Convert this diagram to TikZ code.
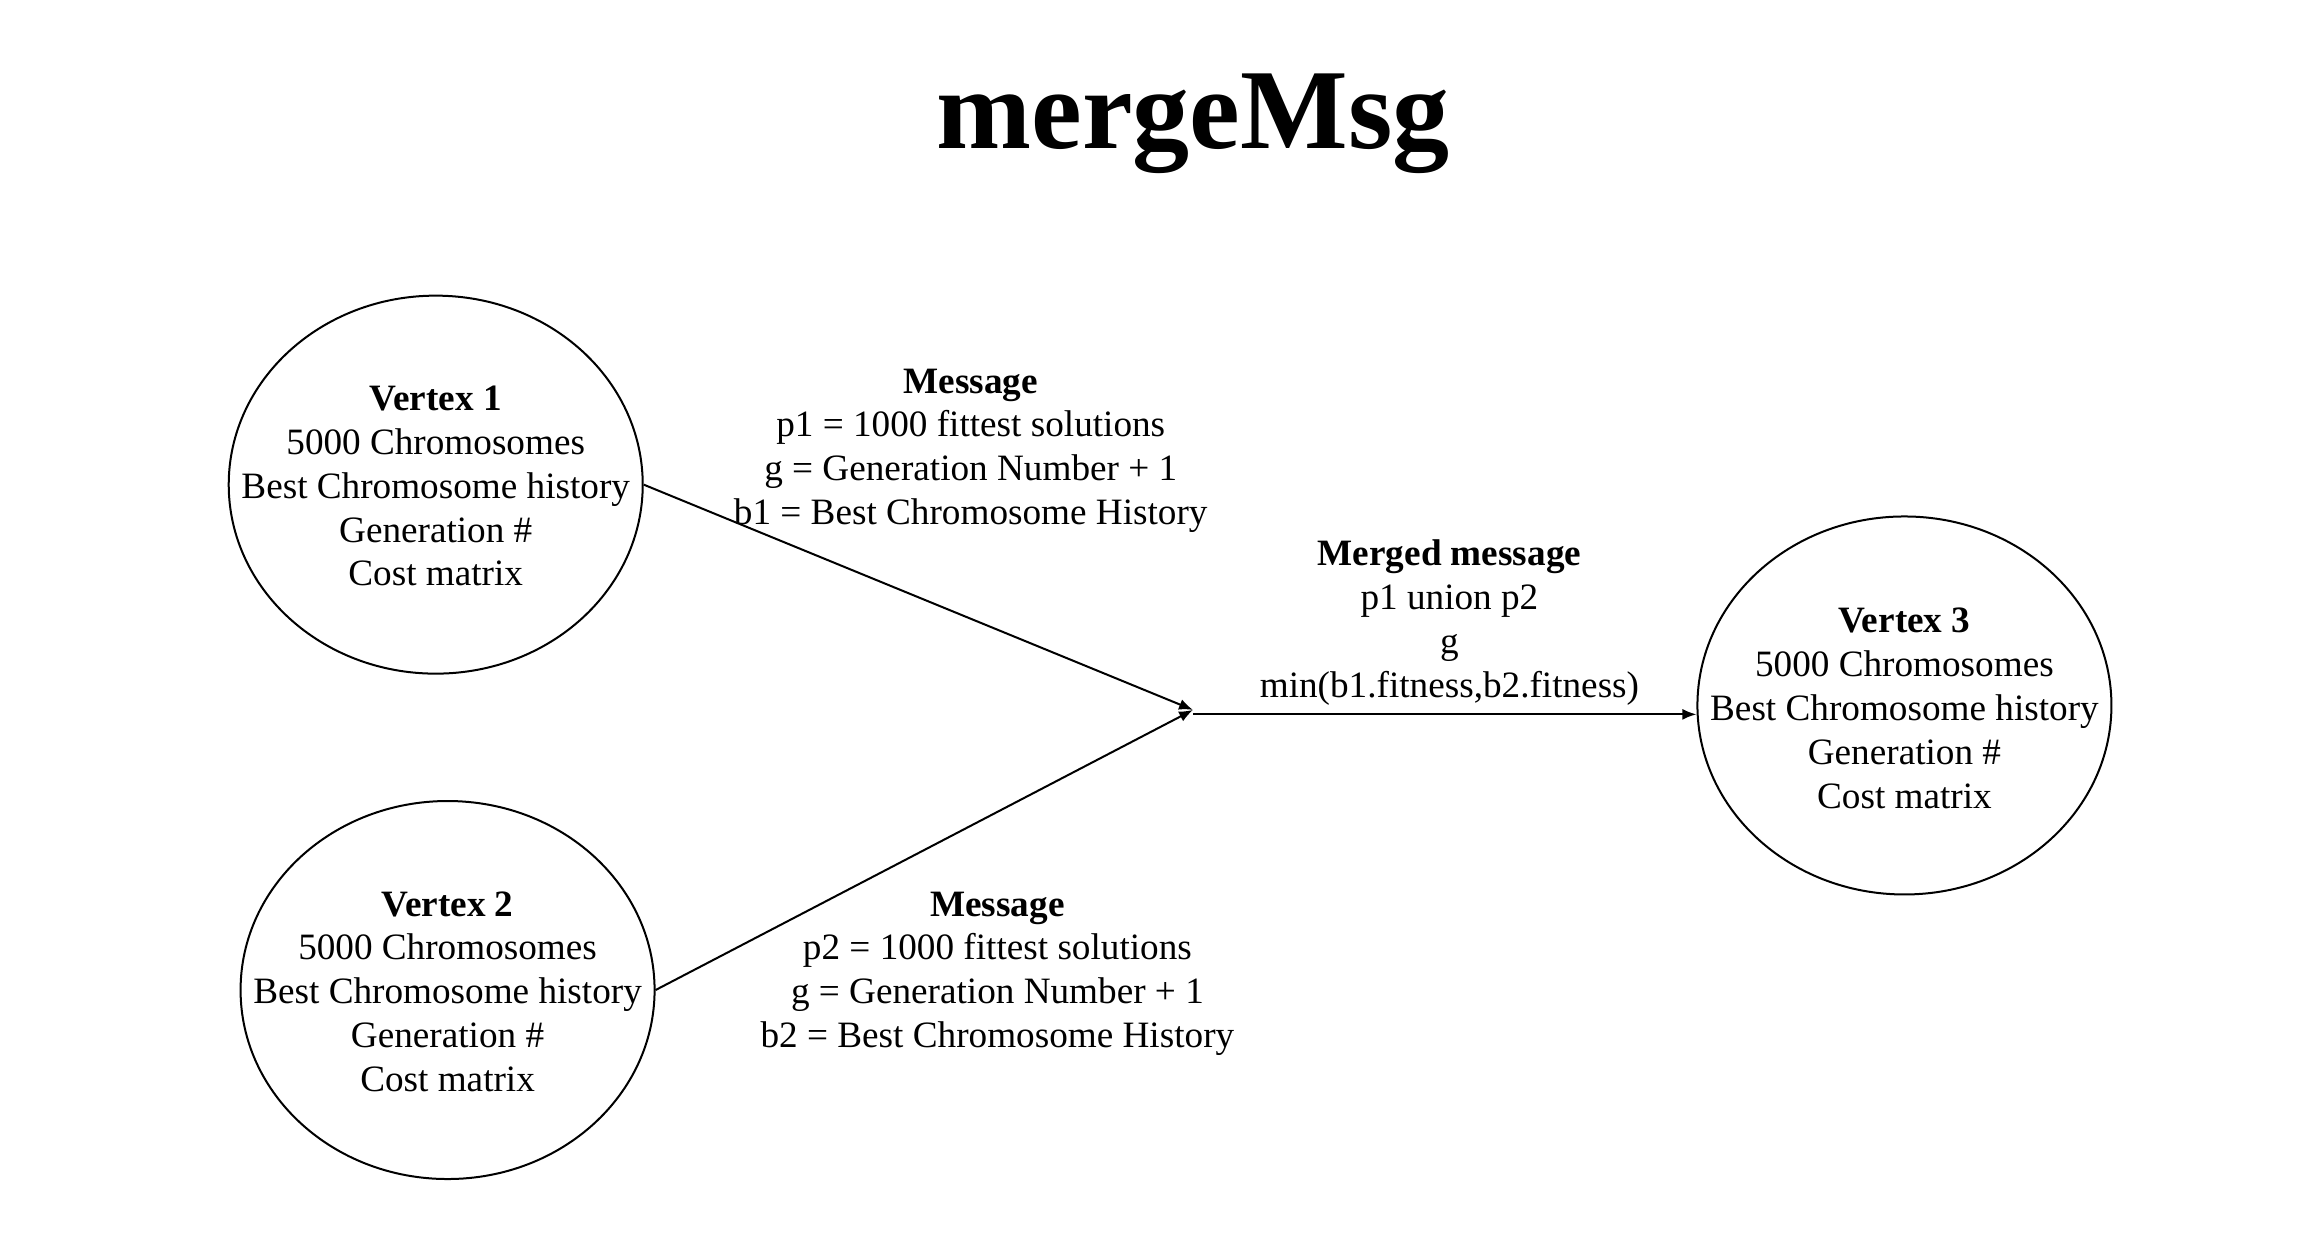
\documentclass[tikz,border=0pt]{standalone}
\usepackage{fontspec}
\setmainfont{Liberation Serif}
\usetikzlibrary{arrows.meta,shapes.geometric}
\begin{document}
\begin{tikzpicture}[x=0.741pt,y=-0.741pt,
  vertex/.style={draw,ellipse,line width=1pt,minimum width=207pt,minimum height=189pt,inner sep=0pt},
  txt/.style={align=center,font=\fontsize{18.6}{21.9}\selectfont,inner sep=0pt},
  conn/.style={line width=1pt,-{Latex[length=7pt,width=5.5pt]}}]
\fill[white] (0,0) rectangle (1560,846.1);
\useasboundingbox (0,0) rectangle (1560,846.1);
\node[font=\fontsize{57}{60}\selectfont\bfseries,anchor=base] (title) at (805,100) {mergeMsg};
\node[vertex] (v1) at (294,327) {};
\node[vertex] (v2) at (302,668) {};
\node[vertex] (v3) at (1285,476) {};
\node[txt] (v1t) at (294,328) {\textbf{Vertex 1}\\5000 Chromosomes\\Best Chromosome history\\Generation \#\\Cost matrix};
\node[txt] (v2t) at (302,669) {\textbf{Vertex 2}\\5000 Chromosomes\\Best Chromosome history\\Generation \#\\Cost matrix};
\node[txt] (v3t) at (1285,478) {\textbf{Vertex 3}\\5000 Chromosomes\\Best Chromosome history\\Generation \#\\Cost matrix};
\node[txt] (m1) at (655,304) {\textbf{Message}\\p1 = 1000 fittest solutions\\g = Generation Number + 1\\b1 = Best Chromosome History};
\node[txt] (m2) at (673,657) {\textbf{Message}\\p2 = 1000 fittest solutions\\g = Generation Number + 1\\b2 = Best Chromosome History};
\node[txt] (mm) at (978,420) {\textbf{Merged message}\\p1 union p2\\g\\min(b1.fitness,b2.fitness)};
\coordinate (j1) at (805,479);
\coordinate (j2) at (805,482);
\draw[conn] (v1.east) -- (j1);
\draw[conn] (v2.east) -- (j1);
\draw[conn] (j2) -- (j2 -| v3.west);
\end{tikzpicture}
\end{document}
